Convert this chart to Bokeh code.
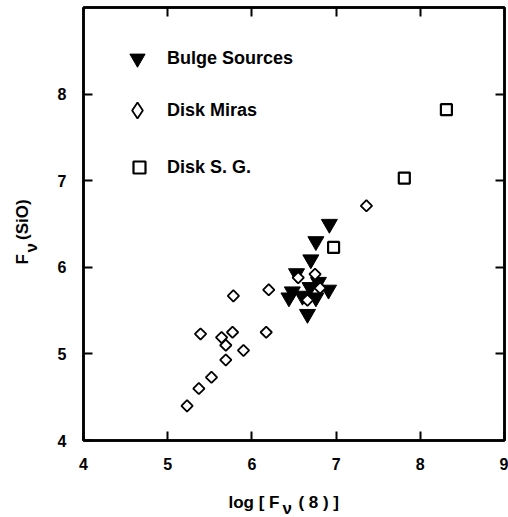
import numpy as np
from bokeh.plotting import figure
from bokeh.models import FixedTicker, LinearAxis, Label, Legend, LegendItem
from bokeh.embed import file_html
from bokeh.resources import INLINE

# log F(8) versus F(SiO) for three source groups
bulge_x = [6.92, 6.76, 6.70, 6.53, 6.79, 6.69, 6.48, 6.91, 6.44, 6.60, 6.76, 6.66]
bulge_y = [6.50, 6.30, 6.09, 5.93, 5.83, 5.77, 5.72, 5.74, 5.65, 5.67, 5.65, 5.46]

mira_x = [5.23, 5.37, 5.52, 5.69, 5.90, 5.69, 5.64, 5.39, 5.77, 6.17, 5.78, 6.20,
          6.75, 6.66, 7.36, 6.55, 6.81]
mira_y = [4.40, 4.60, 4.73, 4.93, 5.04, 5.10, 5.19, 5.23, 5.25, 5.25, 5.67, 5.74,
          5.92, 5.62, 6.71, 5.88, 5.76]

sg_x = [8.31, 7.81, 6.97]
sg_y = [7.82, 7.03, 6.23]

x_ticks = [4, 5, 6, 7, 8, 9]
y_ticks = [4, 5, 6, 7, 8]
inner_x_ticks = [5, 6, 7, 8]
inner_y_ticks = [5, 6, 7, 8]

FONT = "Liberation Sans"
NBSP = "\u00a0"

p = figure(width=508, height=517, x_range=(4, 9), y_range=(4, 9),
           output_backend="svg", toolbar_location=None,
           min_border_left=83, min_border_right=4,
           min_border_top=7, min_border_bottom=77)
p.background_fill_color = "white"
p.border_fill_color = "white"
p.xgrid.visible = False
p.ygrid.visible = False
p.outline_line_color = "black"
p.outline_line_width = 2.5


def style_axis(ax, ticks, show_labels=True):
    ax.ticker = FixedTicker(ticks=ticks)
    ax.minor_tick_line_color = None
    ax.major_tick_in = 9
    ax.major_tick_out = 0
    ax.major_tick_line_width = 2
    ax.major_tick_line_color = "black"
    ax.axis_line_color = "black"
    ax.axis_line_width = 2.5
    ax.major_label_text_font = FONT
    ax.major_label_text_font_style = "bold"
    if show_labels:
        ax.major_label_text_color = "black"
        ax.major_label_text_font_size = "16px"
    else:
        # tick marks only on the top and right edges
        ax.major_label_text_color = None
        ax.major_label_text_font_size = "1px"
        ax.major_label_standoff = 0


style_axis(p.xaxis[0], x_ticks)
p.xaxis[0].major_label_standoff = 17
style_axis(p.yaxis[0], y_ticks)
p.yaxis[0].major_label_standoff = 17

top_axis = LinearAxis()
style_axis(top_axis, inner_x_ticks, show_labels=False)
p.add_layout(top_axis, "above")
right_axis = LinearAxis()
style_axis(right_axis, inner_y_ticks, show_labels=False)
p.add_layout(right_axis, "right")

bulge = p.scatter(bulge_x, bulge_y, marker="inverted_triangle", size=16,
                  fill_color="black", line_color="black", line_width=1)
mira = p.scatter(mira_x, mira_y, marker="square", angle=np.pi / 4, size=8,
                 fill_color="white", line_color="black", line_width=1.8)
sg = p.scatter(sg_x, sg_y, marker="square", size=11,
               fill_color="white", line_color="black", line_width=2.2)

# legend key for the Miras: legend glyphs are never rotated, so a hidden
# diamond renderer supplies the key symbol
mira_key = p.scatter(mira_x[:1], mira_y[:1], marker="diamond",
                     fill_color="white", line_color="black", line_width=1.8)
mira_key.visible = False


def make_legend(label, renderer, box, loc, standoff):
    leg = Legend(items=[LegendItem(label=label, renderers=[renderer])],
                 location=loc, glyph_width=box, glyph_height=box,
                 label_standoff=standoff, padding=0, margin=0,
                 border_line_color=None, background_fill_alpha=0,
                 label_text_font=FONT, label_text_font_style="bold",
                 label_text_font_size="18px", label_text_color="black")
    p.add_layout(leg, "center")


make_legend("Bulge Sources", bulge, 38, (35, 363), 11)
make_legend("Disk Miras", mira_key, 40, (34, 310), 10)
make_legend("Disk S. G.", sg, 30, (41, 258), 13)


def px_to_x(px):
    return 4 + (px - 83) / 84.2


def py_to_y(py):
    return 4 + (440 - py) / 86.6


label_style = dict(text_font=FONT, text_font_style="bold",
                   text_font_size="17px", text_color="black",
                   text_baseline="alphabetic", text_align="left")

# x axis title: log [ F_nu (8) ], the subscript set a little lower
p.add_layout(Label(x=px_to_x(228), y=py_to_y(502),
                   text="log [ F" + NBSP * 4 + "( 8 ) ]", **label_style), "below")
p.add_layout(Label(x=px_to_x(282), y=py_to_y(508), text="ν",
                   **label_style), "below")

# y axis title: F_nu(SiO), rotated to read upwards
p.add_layout(Label(x=px_to_x(22), y=py_to_y(264), text="F" + NBSP * 3 + "(SiO)",
                   angle=np.pi / 2, **label_style), "left")
p.add_layout(Label(x=px_to_x(31), y=py_to_y(252), text="ν",
                   angle=np.pi / 2, **label_style), "left")

open("out.html", "w").write(file_html(p, INLINE))
